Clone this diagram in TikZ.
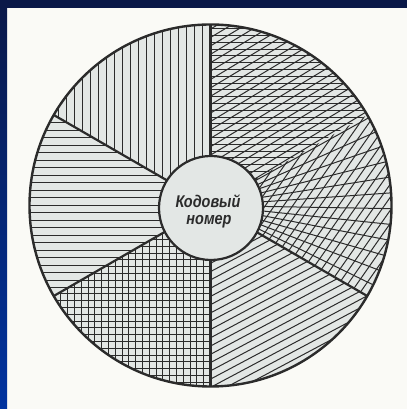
\documentclass[tikz,border=0pt]{standalone}
\usepackage{fontspec}
\newfontfamily\cyrfont{Liberation Sans}
\definecolor{navy}{HTML}{0A1848}
\definecolor{brightblue}{HTML}{0033A0}
\definecolor{paper}{HTML}{FAFAF6}
\definecolor{disc}{HTML}{E3E7E5}
\definecolor{ink}{HTML}{2B2B2B}
\tikzset{
  hatch/.style={draw=ink, line width=1pt},
  divider/.style={draw=ink, line width=2.2pt},
  rim/.style={draw=ink, line width=2.4pt},
  label/.style={font=\cyrfont\itshape\bfseries\fontsize{17}{21}\selectfont, text=ink, align=center, xscale=0.85, inner sep=0pt}
}
\begin{document}
\begin{tikzpicture}[x=1pt,y=1pt]
\useasboundingbox (0,0) rectangle (407,409);
% frame and paper
\fill[paper] (0,0) rectangle (407,409);
\shade[top color=navy, bottom color=brightblue] (0,0) rectangle (7,409);
\fill[navy] (0,401) rectangle (407,409);
\begin{scope}[shift={(210.5,203.5)}]
  \coordinate (O) at (0,0);
  \fill[disc] (O) circle[radius=181];
  % sector 1: 90 -> 30, horizontal + diagonal (rhombus)
  \begin{scope}
    \clip (O) -- (90:181) arc[start angle=90, end angle=30, radius=181] -- cycle;
    \foreach \k in {0,...,28} \draw[hatch] (-190,\k*6.8) -- (190,\k*6.8);
    \foreach \k in {-40,...,40} \draw[hatch, rotate=31] (-260,\k*7.2) -- (260,\k*7.2);
  \end{scope}
  % sector 2: 30 -> -30, radial fan + diagonal
  \begin{scope}
    \clip (O) -- (30:181) arc[start angle=30, end angle=-30, radius=181] -- cycle;
    \foreach \a in {-26,-21,...,29} \draw[hatch] (O) -- (\a:190);
    \foreach \k in {-40,...,40} \draw[hatch, rotate=55] (-260,\k*7.5) -- (260,\k*7.5);
  \end{scope}
  % sector 3: -30 -> -90, diagonal
  \begin{scope}
    \clip (O) -- (-30:181) arc[start angle=-30, end angle=-90, radius=181] -- cycle;
    \foreach \k in {-40,...,40} \draw[hatch, rotate=28] (-260,\k*7.3) -- (260,\k*7.3);
  \end{scope}
  % sector 4: -90 -> -150, grid
  \begin{scope}
    \clip (O) -- (-90:181) arc[start angle=-90, end angle=-150, radius=181] -- cycle;
    \foreach \k in {0,...,28} \draw[hatch] (-190,-\k*6.8) -- (190,-\k*6.8);
    \foreach \k in {0,...,28} \draw[hatch] (-\k*6.8,-190) -- (-\k*6.8,190);
  \end{scope}
  % sector 5: 150 -> 210, horizontal
  \begin{scope}
    \clip (O) -- (150:181) arc[start angle=150, end angle=210, radius=181] -- cycle;
    \foreach \k in {-13,...,13} \draw[hatch] (-190,\k*7.5) -- (190,\k*7.5);
  \end{scope}
  % sector 6: 90 -> 150, vertical
  \begin{scope}
    \clip (O) -- (90:181) arc[start angle=90, end angle=150, radius=181] -- cycle;
    \foreach \k in {0,...,24} \draw[hatch] (-\k*8,-190) -- (-\k*8,190);
  \end{scope}
  % dividers
  \coordinate (d1) at (90:181);
  \coordinate (d3) at (-30:181);
  \coordinate (d4) at (-90:181);
  \coordinate (d5) at (210:181);
  \coordinate (d6) at (150:181);
  \foreach \d in {d1,d3,d4,d5,d6} \draw[divider] (O) -- (\d);
  \draw[rim] (O) circle[radius=181];
  % centre disc
  \node[circle, minimum size=104pt, inner sep=0pt, fill=disc, draw=ink, line width=2.2pt] (hub) at (0.5,-2.5) {};
  \node[label] (t1) at (-2.5,4) {Кодовый};
  \node[label] (t2) at (-1.5,-16) {номер};
\end{scope}
\end{tikzpicture}
\end{document}
